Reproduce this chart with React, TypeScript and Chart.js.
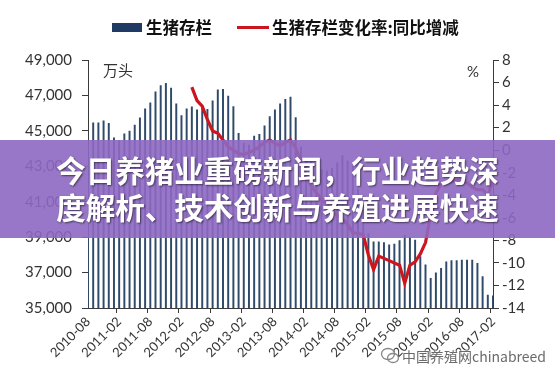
import React, { useEffect, useRef } from 'react';
import { Chart, registerables } from 'chart.js';

Chart.register(...registerables);

const months: string[] = [
  '2010-08', '2010-09', '2010-10', '2010-11', '2010-12',
  '2011-01', '2011-02', '2011-03', '2011-04', '2011-05', '2011-06', '2011-07', '2011-08', '2011-09', '2011-10', '2011-11', '2011-12',
  '2012-01', '2012-02', '2012-03', '2012-04', '2012-05', '2012-06', '2012-07', '2012-08', '2012-09', '2012-10', '2012-11', '2012-12',
  '2013-01', '2013-02', '2013-03', '2013-04', '2013-05', '2013-06', '2013-07', '2013-08', '2013-09', '2013-10', '2013-11', '2013-12',
  '2014-01', '2014-02', '2014-03', '2014-04', '2014-05', '2014-06', '2014-07', '2014-08', '2014-09', '2014-10', '2014-11', '2014-12',
  '2015-01', '2015-02', '2015-03', '2015-04', '2015-05', '2015-06', '2015-07', '2015-08', '2015-09', '2015-10', '2015-11', '2015-12',
  '2016-01', '2016-02', '2016-03', '2016-04', '2016-05', '2016-06', '2016-07', '2016-08', '2016-09', '2016-10', '2016-11', '2016-12',
  '2017-01', '2017-02',
];

// 生猪存栏 (万头)
const inventory: number[] = [
  44200, 45460, 45460, 45560, 45430,
  44600, 44450, 44830, 44990, 45330, 45730, 46240, 46580, 47210, 47550, 47690, 47410,
  46520, 45860, 46240, 46350, 46180, 46280, 46220, 46690, 47310, 47350, 46970, 46370,
  44860, 44300, 44200, 44710, 44810, 45280, 45800, 46180, 46520, 46780, 46900, 45750,
  44100, 43300, 43300, 42800, 42800, 42750, 42900, 43200, 43600, 43300, 43000, 41700,
  40800, 39200, 38740, 38740, 38700, 38560, 38610, 38800, 39100, 39000, 38840, 37900,
  37430, 36680, 36990, 37240, 37610, 37670, 37670, 37710, 37710, 37710, 37520, 36770,
  35730, 35680,
];

// 生猪存栏变化率:同比增减 (%)
const yoyChange: (number | null)[] = [
  null, null, null, null, null,
  null, null, null, null, null, null, null, null, null, null, null, null,
  null, null, null, 5.6, 4.4, 3.9, 2.7, 1.7, 1.5, 0.9, 0.3, 0.0,
  -0.3, -0.4, -0.2, 0.0, 0.3, 0.7, 0.9, 0.6, 0.4, 0.7, 0.9, 0.2,
  -1.0, -2.2, -3.2, -3.8, -4.3, -4.9, -5.4, -5.8, -6.1, -6.6, -7.3, -7.4,
  -7.5, -9.3, -10.6, -9.4, -9.6, -9.8, -10.0, -10.2, -11.8, -10.2, -9.9, -9.2,
  -8.2, -5.8, -3.8, -3.0, -2.9, -2.8, -2.7, -2.6, -2.9, -3.3, -3.5, -3.5,
  -4.0, -2.7,
];

const leftTicks = { min: 35000, max: 49000, step: 2000 };
const rightTicks = { min: -14, max: 8, step: 2 };

const seriesNames = ['生猪存栏', '生猪存栏变化率:同比增减'];
const unitLeft = '万头';
const unitRight = '%';
const bannerLines = ['今日养猪业重磅新闻，行业趋势深', '度解析、技术创新与养殖进展快速'];
const watermark = '中国养殖网chinabreed';

const BAR_COLOR = '#2f4a6a';
const LINE_COLOR = '#cc161e';
const AXIS_COLOR = '#3a3a3a';
const TICK_FONT = 'Lato, "Liberation Sans", sans-serif';
const CJK_FONT = '"Noto Sans CJK SC", "Noto Sans", sans-serif';

export default function App() {
  const canvasRef = useRef<HTMLCanvasElement | null>(null);

  useEffect(() => {
    if (!canvasRef.current) return;
    const chart = new Chart(canvasRef.current, {
      type: 'bar',
      data: {
        labels: months,
        datasets: [
          {
            type: 'line',
            label: seriesNames[1],
            data: yoyChange,
            yAxisID: 'y1',
            borderColor: LINE_COLOR,
            backgroundColor: LINE_COLOR,
            borderWidth: 3.2,
            pointRadius: 0,
            tension: 0,
            spanGaps: false,
            order: 0,
          } as any,
          {
            type: 'bar',
            label: seriesNames[0],
            data: inventory,
            yAxisID: 'y',
            backgroundColor: BAR_COLOR,
            barThickness: 1.3,
            order: 1,
          } as any,
        ],
      },
      options: {
        responsive: false,
        animation: false,
        layout: { padding: { top: 60, left: 0, right: 0, bottom: 0 } },
        plugins: { legend: { display: false }, tooltip: { enabled: false } },
        scales: {
          x: {
            type: 'category',
            offset: false,
            afterFit: (s: any) => { s.height = 70; },
            grid: {
              display: true,
              drawOnChartArea: false,
              drawTicks: true,
              tickLength: 5,
              color: 'transparent',
              tickColor: (ctx: any) => (ctx.index % 6 === 0 ? AXIS_COLOR : 'transparent'),
            },
            border: { display: true, color: AXIS_COLOR, width: 1 },
            ticks: {
              autoSkip: false,
              maxRotation: 45,
              minRotation: 45,
              padding: 1,
              color: '#333',
              font: { family: TICK_FONT, size: 13 },
              callback: (_v: any, i: number) => (i % 6 === 0 ? months[i] : ''),
            },
          },
          y: {
            position: 'left',
            min: leftTicks.min,
            max: leftTicks.max,
            afterFit: (s: any) => { s.width = 88; },
            grid: { drawOnChartArea: false, drawTicks: true, tickLength: 6, color: AXIS_COLOR },
            border: { display: true, color: AXIS_COLOR, width: 1 },
            ticks: {
              stepSize: leftTicks.step,
              padding: 10,
              color: '#333',
              font: { family: TICK_FONT, size: 15 },
              callback: (v: any) => Number(v).toLocaleString('en-US'),
            },
          },
          y1: {
            position: 'right',
            min: rightTicks.min,
            max: rightTicks.max,
            afterFit: (s: any) => { s.width = 62; },
            grid: { drawOnChartArea: false, drawTicks: true, tickLength: 6, color: AXIS_COLOR },
            border: { display: true, color: AXIS_COLOR, width: 1 },
            ticks: {
              stepSize: rightTicks.step,
              padding: 3,
              color: '#333',
              font: { family: TICK_FONT, size: 15 },
            },
          },
        },
      },
    });
    return () => chart.destroy();
  }, []);

  return (
    <div style={{ position: 'absolute', left: 0, top: 0, width: 555, height: 378, background: '#fff', overflow: 'hidden' }}>
      <canvas ref={canvasRef} width={555} height={378} style={{ position: 'absolute', left: 0, top: 0 }} />
      {/* legend */}
      <div style={{ position: 'absolute', left: 112, top: 23, width: 30, height: 9, background: '#1f3a63' }} />
      <div style={{ position: 'absolute', left: 146, top: 16, fontFamily: CJK_FONT, fontWeight: 700, fontSize: 16.5, lineHeight: '22px', color: '#111', whiteSpace: 'nowrap' }}>{seriesNames[0]}</div>
      <div style={{ position: 'absolute', left: 237, top: 26, width: 32, height: 3, background: LINE_COLOR }} />
      <div style={{ position: 'absolute', left: 272, top: 16, fontFamily: CJK_FONT, fontWeight: 700, fontSize: 16.5, lineHeight: '22px', color: '#111', whiteSpace: 'nowrap' }}>{seriesNames[1]}</div>
      {/* units */}
      <div style={{ position: 'absolute', left: 103, top: 60, fontFamily: CJK_FONT, fontSize: 15, lineHeight: '20px', color: '#333' }}>{unitLeft}</div>
      <div style={{ position: 'absolute', left: 467, top: 61, fontFamily: TICK_FONT, fontSize: 15, lineHeight: '20px', color: '#333' }}>{unitRight}</div>
      {/* banner */}
      <div style={{ position: 'absolute', left: 0, top: 140, width: 555, height: 98, background: 'rgba(142,104,194,0.9)' }}>
        <div style={{ paddingTop: 11, textAlign: 'center', fontFamily: CJK_FONT, fontWeight: 700, fontSize: 29.5, lineHeight: '37px', color: '#fff', textShadow: '1px 1px 2px rgba(0,0,0,0.55)', whiteSpace: 'nowrap' }}>
          <div>{bannerLines[0]}</div>
          <div>{bannerLines[1]}</div>
        </div>
      </div>
      {/* watermark */}
      <svg style={{ position: 'absolute', left: 380, top: 347 }} width={20} height={17}>
        <ellipse cx={8} cy={7} rx={6.5} ry={5.5} fill="none" stroke="#888" strokeWidth={1.3} />
        <ellipse cx={13} cy={11} rx={5.5} ry={4.5} fill="none" stroke="#888" strokeWidth={1.3} />
      </svg>
      <div style={{ position: 'absolute', left: 402, top: 346, fontFamily: CJK_FONT, fontSize: 14, lineHeight: '20px', color: '#6a6a6a', textShadow: '0 0 2px #fff, 0 0 2px #fff', whiteSpace: 'nowrap' }}>{watermark}</div>
    </div>
  );
}
